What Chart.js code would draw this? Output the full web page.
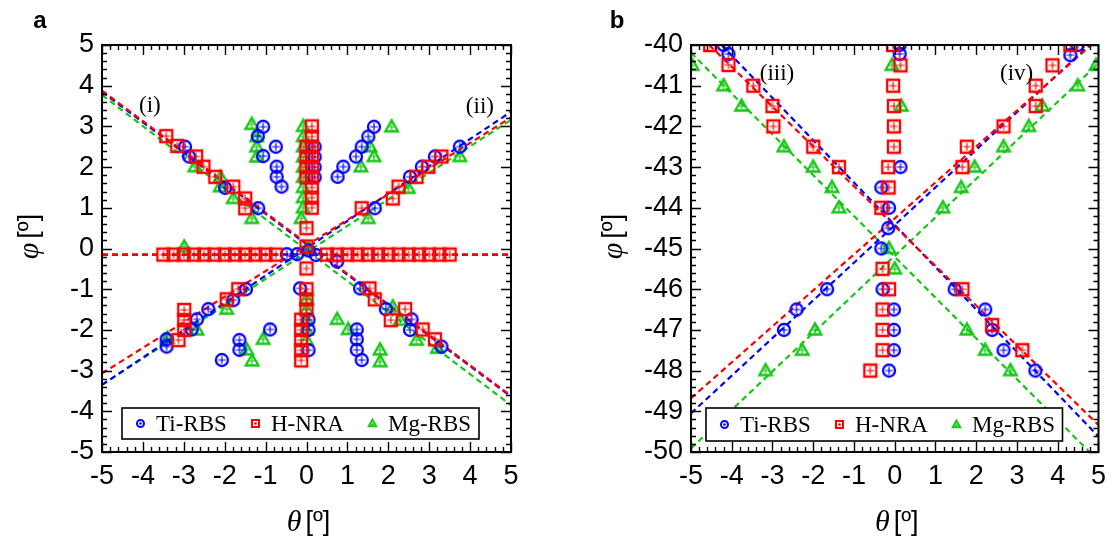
<!DOCTYPE html>
<html>
<head>
<meta charset="utf-8">
<script src="https://cdn.jsdelivr.net/npm/chart.js@4.4.1/dist/chart.umd.min.js"></script>
<style>
  html, body { margin: 0; padding: 0; background: #fff; }
  #wrap { position: relative; width: 1114px; height: 542px; overflow: hidden; }
  .panel { position: absolute; top: 0; width: 557px; height: 542px; }
</style>
</head>
<body>
<div id="wrap">
  <div class="panel" style="left:0"><canvas id="chartA"></canvas></div>
  <div class="panel" style="left:557px"><canvas id="chartB"></canvas></div>
</div>
<script>
'use strict'

/* global Chart */

// ---- data: [theta, phi] ----
const tiA = [
  [-2.97, 2.5], [-2.87, 2.26], [-1.99, 1.49], [-1.18, 0.99],
  [-1.06, 2.99], [-1.19, 2.76], [-1.06, 2.27], [-0.75, 2.5], [-0.73, 2.01], [-0.73, 1.76], [-0.61, 1.52],
  [0.2, 2.5], [0.2, 2.25], [0.2, 2.0], [0.2, 1.75],
  [0.76, 1.76], [0.9, 2.01], [1.21, 2.26], [1.35, 2.5], [1.51, 2.75], [1.65, 2.99],
  [1.67, 0.99], [2.53, 1.76], [2.82, 2.01], [3.14, 2.26], [3.75, 2.5],
  [-0.48, -0.14], [-0.23, -0.14], [0.05, -0.05], [0.23, -0.16], [0.75, -0.32],
  [-3.42, -2.41], [-3.42, -2.23], [-2.81, -1.99], [-2.68, -1.74], [-2.4, -1.49], [-1.79, -1.27], [-1.48, -1.0],
  [-2.07, -2.74], [-1.64, -2.25], [-1.64, -2.49], [-0.89, -1.99],
  [-0.16, -0.98], [0.05, -1.75], [0.05, -2.0], [0.05, -2.5],
  [1.31, -0.98], [1.94, -1.49], [2.57, -1.74], [2.53, -2.0], [3.3, -2.41],
  [1.23, -1.99], [1.23, -2.23], [1.23, -2.49], [1.35, -2.74]
]
const hNraA = [
  [-3.43, 2.76], [-3.16, 2.52], [-2.7, 2.26], [-2.52, 2.01], [-2.23, 1.76], [-1.79, 1.52], [-1.5, 1.23], [-1.5, 0.99],
  [0.13, 3.0], [0.13, 2.75], [0.13, 2.5], [0.13, 2.25], [0.13, 2.0], [0.13, 1.75], [0.13, 1.5], [0.13, 1.25], [0.13, 1.0],
  [0, 2.5], [0, 2.25], [0, 2.0], [0, 1.75], [0, 0.5], [0, 0.05],
  [1.35, 0.99], [2.11, 1.23], [2.25, 1.52], [2.69, 1.76], [2.98, 2.01], [3.3, 2.26],
  [-3.5, -0.15], [-3.25, -0.15], [-3.0, -0.15], [-2.75, -0.15], [-2.5, -0.15], [-2.25, -0.15],
  [-2.0, -0.15], [-1.75, -0.15], [-1.5, -0.15], [-1.25, -0.15], [-1.0, -0.15], [-0.75, -0.15],
  [0.5, -0.15], [0.75, -0.15], [1.0, -0.15], [1.25, -0.15], [1.5, -0.15], [1.75, -0.15], [2.0, -0.15],
  [2.25, -0.15], [2.5, -0.15], [2.75, -0.15], [3.0, -0.15], [3.25, -0.15], [3.5, -0.15],
  [-3.13, -2.25], [-2.99, -1.51], [-2.99, -1.76], [-2.99, -2.0], [-1.95, -1.25], [-1.67, -1.0],
  [0, -0.49], [0, -1.0], [0, -1.25], [0, -1.5],
  [-0.13, -1.75], [-0.13, -2.0], [-0.13, -2.25], [-0.13, -2.5], [-0.13, -2.75],
  [1.54, -0.98], [1.67, -1.25], [2.41, -1.49], [2.06, -1.76], [2.84, -1.99], [3.14, -2.23]
]
const mgA = [
  [-2.73, 2.01], [-2.1, 1.75], [-2.11, 1.52], [-1.79, 1.23], [-1.34, 0.74],
  [-1.34, 3.05], [-1.22, 2.75], [-1.22, 2.5], [-1.22, 2.25],
  [-0.08, 3.0], [-0.08, 2.75], [-0.08, 2.5], [-0.08, 2.25], [-0.08, 2.0], [-0.08, 1.75],
  [-0.08, 1.5], [-0.08, 1.25], [-0.08, 1.0], [-0.13, 0.74], [0.05, 0.0],
  [1.33, 2.01], [1.55, 2.5], [1.65, 2.26], [2.08, 2.99],
  [1.51, 0.74], [2.49, 1.48], [3.75, 2.26],
  [-2.99, 0.04],
  [-3.4, -2.2], [-2.68, -2.0], [-1.95, -1.49],
  [-1.46, -2.49], [-1.33, -2.76], [-1.06, -2.23],
  [0, -1.25], [0, -1.5], [0, -1.75], [0, -2.0], [0, -2.25],
  [2.11, -1.43], [2.29, -1.76], [2.69, -2.25], [3.2, -2.45],
  [0.75, -1.74], [1.02, -1.99], [1.8, -2.49], [1.8, -2.78]
]

const tiB = [
  [-4.2, -40.0], [-4.08, -40.22],
  [0.12, -40.0], [0.12, -40.22], [0.14, -43.0], [-0.33, -43.5], [-0.14, -44.0], [-0.16, -44.5],
  [-0.33, -45.0], [-0.3, -46.0], [-0.02, -46.5], [-0.02, -47.0], [-0.02, -47.5], [-0.14, -48.0],
  [4.49, -40.0], [4.31, -40.25],
  [-1.66, -46.0], [-2.41, -46.5], [-2.72, -47.0],
  [1.47, -46.0], [2.22, -46.5], [2.39, -47.0], [2.67, -47.5], [3.45, -48.0]
]
const hNraB = [
  [-4.53, -40.0], [-4.08, -40.49], [-3.47, -41.0], [-3.0, -41.5], [-2.98, -42.0], [-2.0, -42.5], [-1.37, -43.0],
  [-0.04, -40.0], [0.14, -40.5], [-0.04, -41.0], [-0.02, -41.5], [-0.02, -42.0], [-0.02, -42.5],
  [-0.16, -43.0], [-0.15, -43.5], [-0.33, -44.0], [-0.3, -45.5], [-0.14, -46.0],
  [-0.3, -46.5], [-0.3, -47.0], [-0.3, -47.5], [-0.6, -48.0],
  [4.31, -40.0], [3.87, -40.5], [3.46, -41.0], [3.46, -41.5], [2.67, -42.0], [1.77, -42.5], [1.66, -43.0],
  [1.66, -46.0], [2.39, -46.88], [3.13, -47.5]
]
const mgB = [
  [-4.97, -40.5], [-4.2, -41.0], [-3.76, -41.5], [-2.72, -42.5], [-2.0, -43.0], [-1.54, -43.5], [-1.37, -44.0],
  [-0.07, -40.5], [0.16, -41.5], [-0.14, -45.0], [0.0, -45.5],
  [4.94, -40.5], [4.49, -41.0], [3.62, -41.5], [3.29, -42.0], [2.67, -42.5], [1.96, -43.0], [1.63, -43.5], [1.18, -44.0],
  [-1.96, -47.0], [-2.27, -47.5], [-3.17, -48.0],
  [1.77, -47.0], [2.22, -47.5], [2.84, -48.0]
]

// fitted lines, as end points
const tiFitA = [[[-5, 3.85], [5, -3.64]], [[-5, -3.35], [5, 3.36]], [[-5, -0.15], [5, -0.15]]]
const hNraFitA = [[[-5, 3.88], [5, -3.62]], [[-5, -3.07], [5, 3.22]], [[-5, -0.16], [5, -0.16]]]
const mgFitA = [[[-5, 3.77], [5, -3.85]], [[-5, -3.35], [5, 3.16]], [[-5, -0.15], [5, -0.15]]]
const tiFitB = [[[-4.25, -40], [5, -49.62]], [[-5, -49.05], [4.78, -40]]]
const hNraFitB = [[[-4.55, -40], [5, -49.34]], [[-5, -48.68], [4.82, -40]]]
const mgFitB = [[[-5, -40.19], [4.78, -50]], [[-5, -49.91], [5, -40.45]]]

const seriesLabels = ['Ti-RBS', 'H-NRA', 'Mg-RBS']
const xTicks = [-5, -4, -3, -2, -1, 0, 1, 2, 3, 4, 5]
const notesA = [['(i)', -3.83, 3.5], ['(ii)', 4.24, 3.48]]
const notesB = [['(iii)', -2.89, -40.72], ['(iv)', 2.99, -40.72]]

// ---- styling ----
const SANS = "'Liberation Sans', Arial, sans-serif"
const SERIF = "'Liberation Serif', 'Times New Roman', serif"
const BLUE = '#0000ff'
const RED = '#ff0000'
const GREEN = '#14c814'

function makeMarker (shape, color, size, inner, lw) {
  const c = document.createElement('canvas')
  c.width = c.height = size + 6
  const g = c.getContext('2d')
  const m = c.width / 2
  const r = size / 2
  g.strokeStyle = color
  g.fillStyle = color
  g.lineWidth = lw
  g.beginPath()
  if (shape === 'circle') {
    g.arc(m, m, r, 0, Math.PI * 2)
  } else if (shape === 'rect') {
    g.rect(m - r, m - r, size, size)
  } else {
    g.moveTo(m, m - r * 1.1)
    g.lineTo(m + r * 1.05, m + r * 0.75)
    g.lineTo(m - r * 1.05, m + r * 0.75)
    g.closePath()
  }
  g.stroke()
  if (inner === 'cross') {
    const k = r * 0.62
    g.lineWidth = 1.2
    g.beginPath()
    g.moveTo(m - k, m); g.lineTo(m + k, m)
    g.moveTo(m, m - k); g.lineTo(m, m + k)
    g.stroke()
  } else {
    g.beginPath()
    g.arc(m, m + (shape === 'triangle' ? 1 : 0), 1.3, 0, Math.PI * 2)
    g.fill()
  }
  return c
}

function pts (arr) {
  return arr.map(p => ({ x: p[0], y: p[1] }))
}

function makeDatasets (groups) {
  const sets = []
  groups.forEach((g) => {
    g.fits.forEach((seg) => {
      sets.push({
        data: pts(seg),
        showLine: true,
        borderColor: g.color,
        borderWidth: 2.2,
        borderDash: [6, 4],
        pointRadius: 0,
        fill: false,
        order: 10 + g.order
      })
    })
  })
  groups.forEach((g) => {
    sets.push({
      label: g.label,
      data: pts(g.points),
      pointStyle: makeMarker(g.shape, g.color, 12, 'cross', 2.3),
      pointRadius: 6,
      order: g.order,
      legendMarker: makeMarker(g.shape, g.color, 7, 'dot', 2)
    })
  })
  return sets
}

// frame with inward major/minor ticks on all four sides
const frameTicks = {
  id: 'frameTicks',
  afterDatasetsDraw (chart) {
    const { ctx, chartArea: a, scales: { x, y } } = chart
    ctx.save()
    ctx.strokeStyle = '#000'
    ctx.lineWidth = 1.4
    ctx.beginPath()
    for (let i = 0; i <= 50; i++) {
      const len = i % 5 === 0 ? 10 : 5
      const px = Math.round(x.getPixelForValue(x.min + i * 0.2)) + 0.5
      ctx.moveTo(px, a.bottom); ctx.lineTo(px, a.bottom - len)
      ctx.moveTo(px, a.top); ctx.lineTo(px, a.top + len)
      const py = Math.round(y.getPixelForValue(y.min + i * 0.2)) + 0.5
      ctx.moveTo(a.left, py); ctx.lineTo(a.left + len, py)
      ctx.moveTo(a.right, py); ctx.lineTo(a.right - len, py)
    }
    ctx.stroke()
    ctx.lineWidth = 2
    ctx.strokeRect(a.left, a.top, a.right - a.left, a.bottom - a.top)
    ctx.restore()
  }
}

// boxed legend inside the plot, titles, panel letter, notes
const decor = {
  id: 'decor',
  afterDraw (chart, args, o) {
    const { ctx, chartArea: a, scales: { x, y } } = chart
    ctx.save()

    // legend box
    const bx = a.left + o.boxLeft
    const bw = a.right - o.boxRight - bx
    const by = a.bottom - o.boxBottom - o.boxHeight
    ctx.fillStyle = '#fff'
    ctx.fillRect(bx, by, bw, o.boxHeight)
    ctx.strokeStyle = '#000'
    ctx.lineWidth = 1.6
    ctx.strokeRect(bx, by, bw, o.boxHeight)
    const cy = by + o.boxHeight / 2
    const offs = [18, 133, 250]
    ctx.font = '23px ' + SERIF
    ctx.fillStyle = '#000'
    ctx.textBaseline = 'middle'
    ctx.textAlign = 'left'
    chart.data.datasets.filter(d => d.label).forEach((d, i) => {
      const mk = d.legendMarker
      ctx.drawImage(mk, Math.round(bx + offs[i] - mk.width / 2), Math.round(cy - mk.height / 2))
      ctx.fillText(seriesLabels[i], bx + offs[i] + 16, cy + 1)
    })

    // notes
    ctx.textAlign = 'center'
    o.notes.forEach(n => {
      ctx.fillText(n[0], x.getPixelForValue(n[1]), y.getPixelForValue(n[2]))
    })

    // x title
    const tx = (a.left + a.right) / 2 + 2
    const ty = 523
    ctx.font = 'italic 30px ' + SERIF
    const w1 = ctx.measureText('\u03B8').width
    ctx.font = '27px ' + SANS
    const w2 = ctx.measureText('[\u00BA]').width
    let sx = tx - (w1 + 4 + w2) / 2
    ctx.textAlign = 'left'
    ctx.font = 'italic 30px ' + SERIF
    ctx.fillText('\u03B8', sx, ty)
    ctx.font = '27px ' + SANS
    ctx.fillText('[\u00BA]', sx + w1 + 4, ty)

    // y title
    ctx.save()
    ctx.translate(a.left - o.yTitle, (a.top + a.bottom) / 2 - 12)
    ctx.rotate(-Math.PI / 2)
    ctx.font = 'italic 30px ' + SERIF
    const v1 = ctx.measureText('\u03C6').width
    sx = -(v1 + 4 + w2) / 2
    ctx.fillText('\u03C6', sx, 0)
    ctx.font = '27px ' + SANS
    ctx.fillText('[\u00BA]', sx + v1 + 4, 0)
    ctx.restore()

    // panel letter
    ctx.font = 'bold 24px ' + SANS
    ctx.textAlign = 'center'
    ctx.fillText(o.letter, o.letterX, 21)
    ctx.restore()
  }
}

function axis (min, max, fit) {
  return {
    type: 'linear',
    min: min,
    max: max,
    grid: { display: false, drawTicks: false },
    border: { display: false },
    ticks: {
      stepSize: 1,
      autoSkip: false,
      maxRotation: 0,
      padding: 8,
      color: '#000',
      font: { family: SANS, size: 27 },
      callback: v => String(v)
    },
    afterFit: fit
  }
}

function makeChart (id, groups, yMin, yMax, opts) {
  return new Chart(document.getElementById(id), {
    type: 'scatter',
    data: { datasets: makeDatasets(groups) },
    options: {
      responsive: true,
      maintainAspectRatio: false,
      animation: false,
      layout: { padding: { top: 45, right: opts.right, left: 0, bottom: 0 } },
      plugins: {
        legend: { display: false },
        tooltip: { enabled: false },
        decor: opts.decor
      },
      scales: {
        x: axis(xTicks[0], xTicks[xTicks.length - 1], s => { s.height = 90 }),
        y: axis(yMin, yMax, s => { s.width = opts.yWidth })
      }
    },
    plugins: [frameTicks, decor]
  })
}

const chartA = makeChart('chartA', [
  { label: seriesLabels[0], color: BLUE, shape: 'circle', points: tiA, fits: tiFitA, order: 2 },
  { label: seriesLabels[1], color: RED, shape: 'rect', points: hNraA, fits: hNraFitA, order: 1 },
  { label: seriesLabels[2], color: GREEN, shape: 'triangle', points: mgA, fits: mgFitA, order: 3 }
], -5, 5, {
  right: 46,
  yWidth: 102,
  decor: { boxLeft: 20, boxRight: 32, boxBottom: 13, boxHeight: 31, notes: notesA, yTitle: 72, letter: 'a', letterX: 40 }
})

const chartB = makeChart('chartB', [
  { label: seriesLabels[0], color: BLUE, shape: 'circle', points: tiB, fits: tiFitB, order: 2 },
  { label: seriesLabels[1], color: RED, shape: 'rect', points: hNraB, fits: hNraFitB, order: 1 },
  { label: seriesLabels[2], color: GREEN, shape: 'triangle', points: mgB, fits: mgFitB, order: 3 }
], -50, -40, {
  right: 15,
  yWidth: 134,
  decor: { boxLeft: 15, boxRight: 36, boxBottom: 11, boxHeight: 33, notes: notesB, yTitle: 77, letter: 'b', letterX: 60 }
})
</script>
</body>
</html>
